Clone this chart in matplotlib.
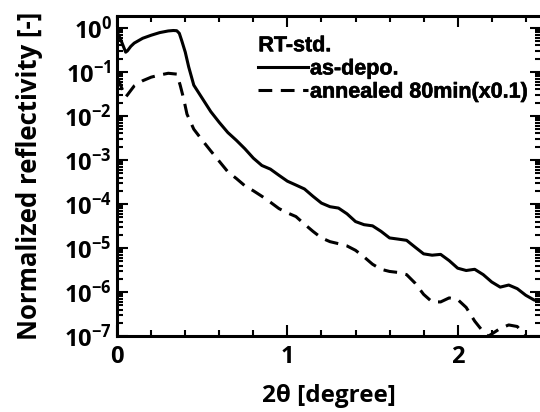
import matplotlib
matplotlib.use("Agg")
import matplotlib.pyplot as plt
import matplotlib.patheffects as pe
from matplotlib.font_manager import FontProperties
from matplotlib.ticker import LogLocator, MultipleLocator, NullFormatter

plt.rcParams['font.family'] = ['Open Sans', 'DejaVu Sans']
plt.rcParams['font.weight'] = 'bold'
plt.rcParams['mathtext.fontset'] = 'custom'
plt.rcParams['mathtext.rm'] = 'Open Sans:bold'
plt.rcParams['mathtext.bf'] = 'Open Sans:bold'
plt.rcParams['mathtext.default'] = 'rm'

# 2theta [deg] and reflectivity
x_depo = [0.00, 0.02, 0.04, 0.05, 0.06, 0.08, 0.10, 0.15, 0.20, 0.25, 0.30, 0.33,
          0.35, 0.365, 0.38, 0.40, 0.42, 0.45, 0.50, 0.55, 0.60, 0.65, 0.70, 0.75,
          0.80, 0.85, 0.90, 0.95, 1.00, 1.05, 1.10, 1.15, 1.20, 1.25, 1.30, 1.35,
          1.40, 1.45, 1.50, 1.55, 1.60, 1.65, 1.70, 1.75, 1.80, 1.85, 1.90, 1.95,
          2.00, 2.05, 2.10, 2.15, 2.20, 2.25, 2.30, 2.35, 2.40, 2.45, 2.49]
r_depo = [0.8, 0.55, 0.35, 0.28, 0.30, 0.38, 0.45, 0.58, 0.68, 0.78, 0.85, 0.87,
          0.86, 0.75, 0.50, 0.28, 0.13, 5.0e-2, 2.5e-2, 1.25e-2, 7.1e-3, 4.2e-3, 2.8e-3, 1.8e-3,
          1.1e-3, 7.5e-4, 6.2e-4, 4.5e-4, 3.3e-4, 2.7e-4, 2.2e-4, 1.5e-4, 1.05e-4, 8.7e-5, 8.1e-5, 6.0e-5,
          4.0e-5, 3.4e-5, 3.2e-5, 2.4e-5, 1.7e-5, 1.6e-5, 1.5e-5, 1.05e-5, 7.4e-6, 6.9e-6, 7.2e-6, 5.2e-6,
          3.5e-6, 3.1e-6, 3.3e-6, 2.5e-6, 1.7e-6, 1.3e-6, 1.45e-6, 1.2e-6, 8.5e-7, 6.6e-7, 6.3e-7]

x_ann = [0.00, 0.02, 0.04, 0.05, 0.06, 0.08, 0.10, 0.15, 0.20, 0.25, 0.30, 0.35,
         0.37, 0.39, 0.41, 0.45, 0.50, 0.55, 0.60, 0.65, 0.70, 0.75, 0.80, 0.85,
         0.90, 0.95, 1.00, 1.05, 1.10, 1.15, 1.20, 1.25, 1.30, 1.35, 1.40, 1.45,
         1.50, 1.55, 1.60, 1.65, 1.70, 1.75, 1.80, 1.85, 1.90, 1.95, 2.00, 2.05,
         2.10, 2.15, 2.18, 2.20, 2.25, 2.30, 2.35, 2.40, 2.43]
r_ann = [7.6e-2, 5.0e-2, 3.2e-2, 2.7e-2, 3.0e-2, 3.8e-2, 4.8e-2, 6.3e-2, 7.6e-2, 8.5e-2, 9.3e-2, 8.9e-2,
         5.0e-2, 2.5e-2, 1.1e-2, 5.0e-3, 2.8e-3, 1.6e-3, 9.3e-4, 5.4e-4, 3.8e-4, 2.6e-4, 2.0e-4, 1.5e-4,
         1.1e-4, 7.9e-5, 6.3e-5, 5.2e-5, 3.5e-5, 2.4e-5, 1.7e-5, 1.4e-5, 1.26e-5, 1.12e-5, 8.9e-6, 6.3e-6,
         4.3e-6, 3.3e-6, 2.95e-6, 2.8e-6, 2.5e-6, 1.6e-6, 8.9e-7, 6.0e-7, 6.0e-7, 7.4e-7, 6.8e-7, 4.5e-7,
         2.2e-7, 1.26e-7, 1.0e-7, 1.12e-7, 1.5e-7, 1.8e-7, 1.66e-7, 1.0e-7, 6.3e-8]

fig = plt.figure(figsize=(5.4, 4.12), dpi=100)
ax = fig.add_axes([0.217, 0.184, 0.785, 0.777])

ax.plot(x_depo, r_depo, color='black', lw=2.2, label='as-depo.')
ax.plot(x_ann, r_ann, color='black', lw=2.2, dashes=(4.5, 2.8), label='annealed 80min(x0.1)')

ax.set_yscale('log')
ax.set_xlim(0, 2.49)
ax.set_ylim(1e-7, 1.85)

ax.xaxis.set_major_locator(MultipleLocator(1))
ax.xaxis.set_minor_locator(MultipleLocator(0.2))
ax.yaxis.set_major_locator(LogLocator(base=10, numticks=20))
ax.yaxis.set_minor_locator(LogLocator(base=10, subs=range(2, 10), numticks=20))
ax.yaxis.set_minor_formatter(NullFormatter())

ax.tick_params(which='both', direction='in', top=True, right=True, width=1.5)
ax.tick_params(which='major', length=8, labelsize=17, pad=4)
ax.tick_params(axis='x', which='major', pad=6)
ax.tick_params(which='minor', length=4.5)
for s in ax.spines.values():
    s.set_linewidth(2.2)

ax.set_xlabel('2θ [degree]', fontsize=17.5, fontweight='bold', labelpad=11)
ax.set_ylabel('Normalized reflectivity [-]', fontsize=18.5, fontweight='bold', labelpad=15)

leg_font = FontProperties(family='Liberation Sans', weight='bold', size=15.5)
leg = ax.legend(title='RT-std.', loc='upper left', bbox_to_anchor=(0.333, 0.94),
                frameon=False, borderpad=0, borderaxespad=0, handlelength=2.3,
                handletextpad=0.1, labelspacing=0.1, alignment='left', prop=leg_font)
leg.get_title().set_fontproperties(leg_font)
for t in leg.get_texts() + [leg.get_title()]:
    t.set_path_effects([pe.withStroke(linewidth=0.4, foreground='black')])

fig.savefig('out.png', dpi=100)
